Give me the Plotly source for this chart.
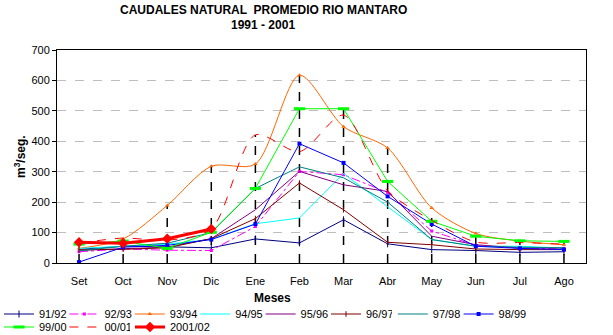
import plotly.graph_objects as go

months = ["Set", "Oct", "Nov", "Dic", "Ene", "Feb", "Mar", "Abr", "May", "Jun", "Jul", "Ago"]

s9192 = [45, 55, 53, 50, 79, 66, 142, 63, 44, 41, 35, 37]
s9293 = [37, 46, 42, 41, 120, 301, 290, 232, 105, 58, 49, 47]
s9394 = [48, 79, 189, 318, 325, 617, 448, 378, 181, 97, 72, 60]
s9495 = [48, 55, 62, 78, 129, 148, 294, 185, 77, 55, 55, 49]
s9596 = [42, 48, 52, 80, 175, 301, 257, 235, 88, 60, 49, 49]
s9697 = [43, 45, 50, 80, 146, 263, 175, 68, 60, 46, 44, 44]
s9798 = [40, 55, 65, 100, 245, 316, 280, 200, 77, 55, 52, 50]
s9899 = [3, 52, 58, 77, 128, 392, 329, 219, 128, 55, 48, 44]
s9900 = [62, 72, 48, 101, 245, 507, 507, 268, 137, 88, 73, 71]
s0001 = [65, 82, 75, 112, 421, 366, 486, 238, 140, 69, 67, 62]
s0102 = [68, 65, 80, 112]

series = [
    ("91/92", s9192, "#000080", "solid", 1, dict(symbol="line-ns", size=5, line=dict(width=1, color="#000080")), "linear"),
    ("92/93", s9293, "#FF00FF", "dashdot", 1, dict(symbol="square", size=3), "linear"),
    ("93/94", s9394, "#FF6600", "solid", 1, dict(symbol="triangle-up", size=4), "spline"),
    ("94/95", s9495, "#00FFFF", "solid", 1, None, "linear"),
    ("95/96", s9596, "#800080", "solid", 1, None, "linear"),
    ("96/97", s9697, "#800000", "solid", 1, dict(symbol="line-ns", size=4, line=dict(width=1, color="#800000")), "linear"),
    ("97/98", s9798, "#008080", "solid", 1, None, "linear"),
    ("98/99", s9899, "#0000FF", "solid", 1, dict(symbol="square", size=4), "linear"),
    ("99/00", s9900, "#00FF00", "solid", 1, dict(symbol="line-ew", size=8, line=dict(width=3, color="#00FF00")), "linear"),
    ("00/01", s0001, "#FF0000", "dash", 1, None, "spline"),
    ("2001/02", s0102, "#FF0000", "solid", 3, dict(symbol="diamond", size=8), "linear"),
]
legend_of = ["legend"] * 6 + ["legend5", "legend4", "legend2", "legend2", "legend3"]

fig = go.Figure()

# drop lines from the highest value of each month down to zero
all_vals = [s[1] for s in series]
dx, dy = [], []
for i, m in enumerate(months):
    vmax = max(v[i] for v in all_vals if i < len(v))
    dx += [m, m, None]
    dy += [0, vmax, None]
fig.add_trace(go.Scatter(x=dx, y=dy, mode="lines", line=dict(color="black", width=1.5, dash="dash"),
                         showlegend=False, hoverinfo="skip"))

for k, (name, vals, color, dash, width, marker, shape) in enumerate(series):
    kw = {}
    if marker is not None:
        mode = "lines+markers"
        mk = dict(color=color)
        mk.update(marker)
        kw["marker"] = mk
    else:
        mode = "lines"
    fig.add_trace(go.Scatter(
        x=months[:len(vals)], y=vals, name=name, mode=mode, legend=legend_of[k],
        line=dict(color=color, width=width, dash=dash, shape=shape, smoothing=0.8 if shape == "spline" else None),
        **kw))

font = "Liberation Sans, Arial, sans-serif"
PW, PH = 529, 213
leg_common = dict(orientation="h", xanchor="left", yanchor="middle",
                  entrywidth=20.4, entrywidthmode="pixels", bgcolor="rgba(0,0,0,0)",
                  font=dict(size=11), tracegroupgap=0, itemwidth=30)
leg_wide = dict(leg_common)
leg_wide["entrywidth"] = 60
fig.update_layout(
    width=613, height=335,
    margin=dict(l=57, r=27, t=50, b=72, autoexpand=False),
    paper_bgcolor="white", plot_bgcolor="white",
    font=dict(family=font, size=11, color="black"),
    showlegend=True,
    legend=dict(x=(-1 - 57) / PW, y=-(314 - 263) / PH, **leg_common),
    legend5=dict(x=(392.8 - 57) / PW, y=-(314 - 263) / PH, **leg_wide),
    legend4=dict(x=(458.6 - 57) / PW, y=-(314 - 263) / PH, **leg_wide),
    legend2=dict(x=(-1 - 57) / PW, y=-(327 - 263) / PH, **leg_common),
    legend3=dict(x=(130 - 57) / PW, y=-(327 - 263) / PH, **leg_wide),
    xaxis=dict(type="category", categoryorder="array", categoryarray=months, range=[-0.5, 11.5],
               showline=True, linecolor="black", linewidth=1, mirror=True, showgrid=False,
               ticks="", ticklabelstandoff=8, tickfont=dict(size=11)),
    yaxis=dict(range=[0, 700], dtick=100, showline=True, linecolor="black", linewidth=1, mirror=True,
               showgrid=True, gridcolor="#BEBEBE", griddash="dash", gridwidth=1, zeroline=False,
               ticks="outside", ticklen=4, tickcolor="black", tickfont=dict(size=11)),
)

fig.add_annotation(text="<b>CAUDALES NATURAL  PROMEDIO RIO MANTARO</b>", xref="paper", yref="paper",
                   x=(263 - 57) / PW, y=1 + (50 - 10) / PH, xanchor="center", yanchor="middle",
                   showarrow=False, font=dict(size=12))
fig.add_annotation(text="<b>1991 - 2001</b>", xref="paper", yref="paper",
                   x=(263 - 57) / PW, y=1 + (50 - 25) / PH, xanchor="center", yanchor="middle",
                   showarrow=False, font=dict(size=12))
fig.add_annotation(text="<b>Meses</b>", xref="paper", yref="paper",
                   x=(272 - 57) / PW, y=-(298 - 263) / PH, xanchor="center", yanchor="middle",
                   showarrow=False, font=dict(size=12))
fig.add_annotation(text="<b>m<sup>3</sup>/seg.</b>", xref="paper", yref="paper",
                   x=-(57 - 20) / PW, y=(263 - 157) / PH, xanchor="center", yanchor="middle",
                   showarrow=False, textangle=-90, font=dict(size=12))

fig.write_html("out.html")
